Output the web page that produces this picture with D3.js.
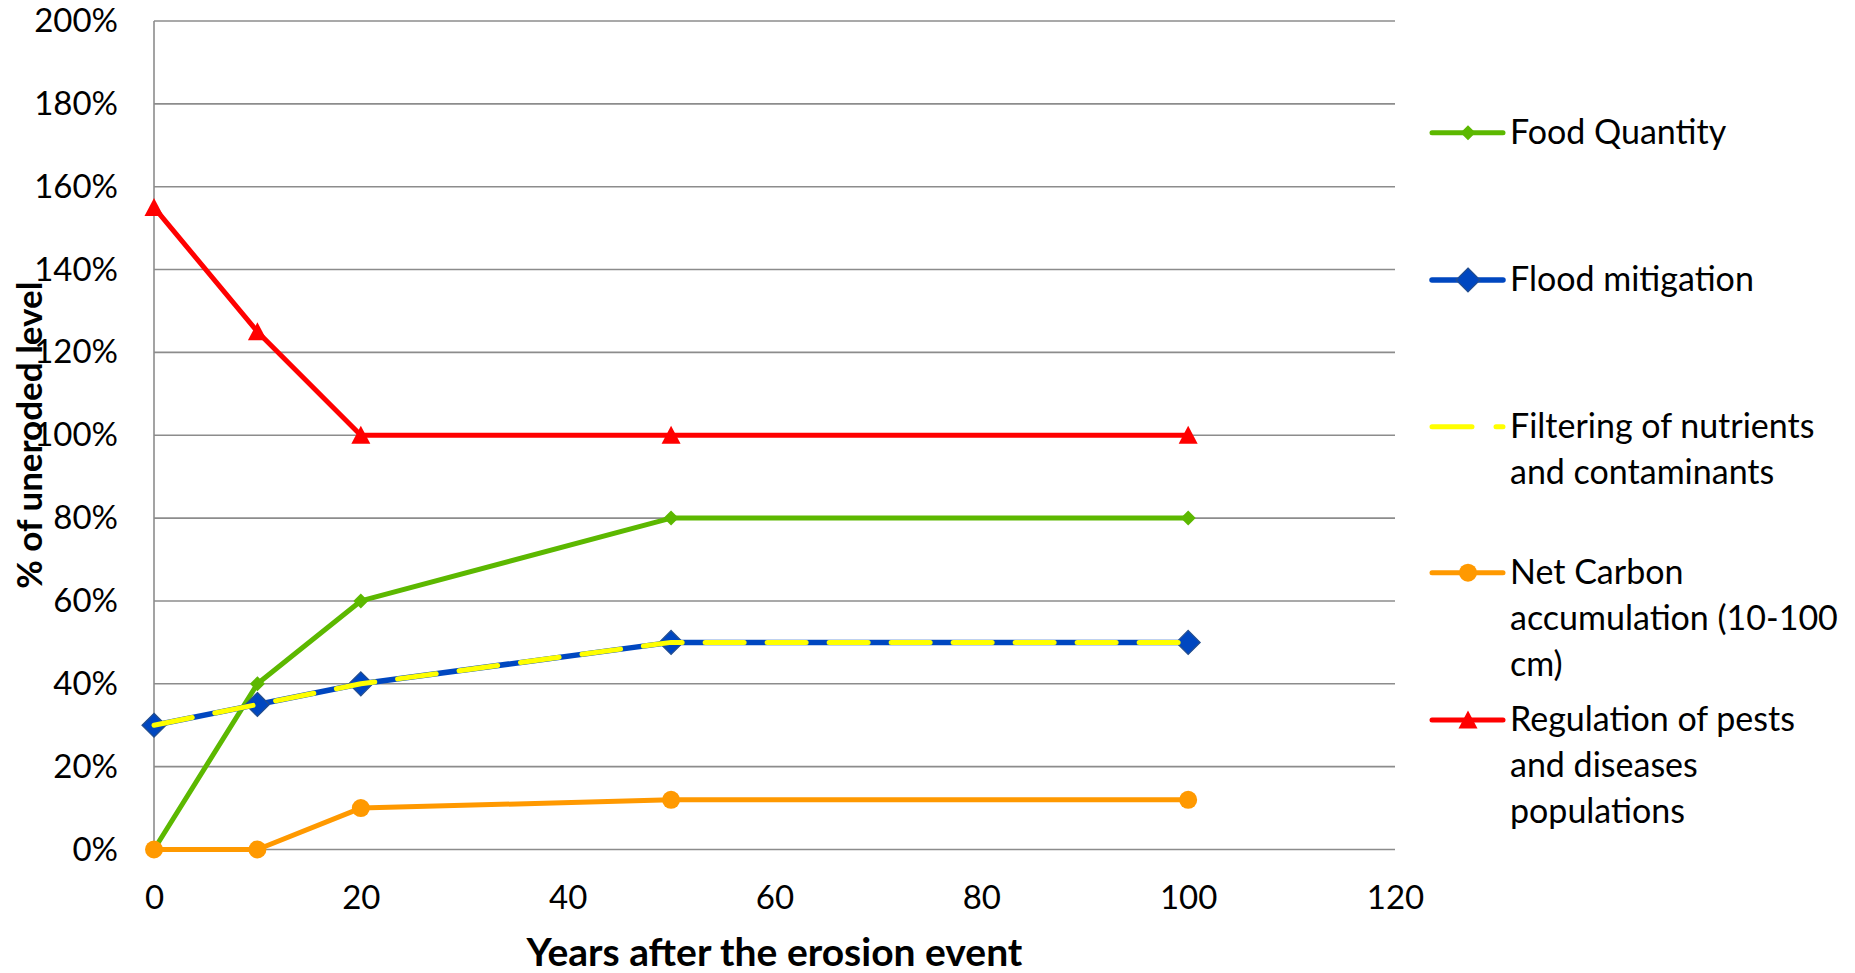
<!DOCTYPE html>
<html>
<head>
<meta charset="utf-8">
<script src="https://cdn.jsdelivr.net/npm/d3@7"></script>
<style>
  html, body { margin: 0; padding: 0; background: #fff; }
  svg { display: block; }
  text { font-family: Lato, "Open Sans", sans-serif; fill: #000; }
</style>
</head>
<body>
<svg id="chart" width="1855" height="973"></svg>
<script>
// Years after the erosion event
const years = [0, 10, 20, 50, 100];

// Ecosystem service levels, as a fraction of the uneroded level
const foodQuantity     = [0.00, 0.40, 0.60, 0.80, 0.80];
const floodMitigation  = [0.30, 0.35, 0.40, 0.50, 0.50];
const filtering        = [0.30, 0.35, 0.40, 0.50, 0.50];
const netCarbon        = [0.00, 0.00, 0.10, 0.12, 0.12];
const pestRegulation   = [1.55, 1.25, 1.00, 1.00, 1.00];

const yTicks = [0, 0.2, 0.4, 0.6, 0.8, 1.0, 1.2, 1.4, 1.6, 1.8, 2.0];
const xTicks = [0, 20, 40, 60, 80, 100, 120];

const seriesNames = [
  ["Food Quantity"],
  ["Flood mitigation"],
  ["Filtering of nutrients", "and contaminants"],
  ["Net Carbon", "accumulation (10-100", "cm)"],
  ["Regulation of pests", "and diseases", "populations"]
];

const series = [
  { values: foodQuantity,    color: "#5CB800", width: 5, marker: "diamond",  size: 15, stroke: null },
  { values: floodMitigation, color: "#0047C0", width: 5.5, marker: "diamond", size: 24, stroke: "#254E8C" },
  { values: filtering,       color: "#FFFF00", width: 5, marker: null, dash: "39,23" },
  { values: netCarbon,       color: "#FF9900", width: 5, marker: "circle",   size: 18, stroke: null },
  { values: pestRegulation,  color: "#FF0000", width: 5, marker: "triangle", size: 19, stroke: null }
];

const svg = d3.select("#chart");

const x = d3.scaleLinear().domain([0, 120]).range([154, 1395]);
const y = d3.scaleLinear().domain([0, 2]).range([849.5, 21]);

const tickFont = 33;
const legendFont = 34;

// Horizontal gridlines
svg.append("g")
  .selectAll("line")
  .data(yTicks)
  .join("line")
  .attr("x1", x(0)).attr("x2", x(120))
  .attr("y1", d => y(d)).attr("y2", d => y(d))
  .attr("stroke", "#8c8c8c").attr("stroke-width", 1.6);

// Vertical axis line
svg.append("line")
  .attr("x1", x(0)).attr("x2", x(0))
  .attr("y1", y(2)).attr("y2", y(0))
  .attr("stroke", "#8c8c8c").attr("stroke-width", 1.6);

// Y axis tick labels
const yAxis = d3.axisLeft(y).tickValues(yTicks).tickSize(0).tickPadding(36)
  .tickFormat(d => Math.round(d * 100) + "%");
const yg = svg.append("g").attr("transform", `translate(${x(0)},0)`).call(yAxis);
yg.select(".domain").remove();
yg.selectAll("text").attr("font-size", tickFont).attr("font-family", "Lato").attr("fill", "#000");

// X axis tick labels
const xAxis = d3.axisBottom(x).tickValues(xTicks).tickSize(0).tickPadding(36);
const xg = svg.append("g").attr("transform", `translate(0,${y(0)})`).call(xAxis);
xg.select(".domain").remove();
xg.selectAll("text").attr("font-size", tickFont).attr("font-family", "Lato").attr("fill", "#000");

// Axis titles
svg.append("text")
  .attr("x", (x(0) + x(120)) / 2).attr("y", 966)
  .attr("text-anchor", "middle")
  .attr("font-size", 39).attr("font-weight", "bold")
  .text("Years after the erosion event");

svg.append("text")
  .attr("transform", `translate(42,${(y(0) + y(2)) / 2}) rotate(-90)`)
  .attr("text-anchor", "middle")
  .attr("font-size", 35).attr("font-weight", "bold")
  .text("% of uneroded level");

function markerPath(type, size) {
  const h = size / 2;
  if (type === "diamond") return `M0,${-h}L${h},0L0,${h}L${-h},0Z`;
  if (type === "triangle") return `M0,${-h}L${h},${h * 0.9}L${-h},${h * 0.9}Z`;
  return null;
}

function drawMarker(g, s, cx, cy) {
  if (!s.marker) return;
  if (s.marker === "circle") {
    g.append("circle").attr("cx", cx).attr("cy", cy).attr("r", s.size / 2).attr("fill", s.color);
  } else {
    g.append("path").attr("d", markerPath(s.marker, s.size))
      .attr("transform", `translate(${cx},${cy})`)
      .attr("fill", s.color)
      .attr("stroke", s.stroke || "none").attr("stroke-width", s.stroke ? 1.2 : 0);
  }
}

const line = d3.line().x((d, i) => x(years[i])).y(d => y(d));

// Series lines and markers
series.forEach(s => {
  const g = svg.append("g");
  g.append("path")
    .datum(s.values)
    .attr("d", line)
    .attr("fill", "none")
    .attr("stroke", s.color)
    .attr("stroke-width", s.width)
    .attr("stroke-linejoin", "round")
    .attr("stroke-linecap", s.dash ? "round" : "butt")
    .attr("stroke-dasharray", s.dash || null);
  s.values.forEach((v, i) => drawMarker(g, s, x(years[i]), y(v)));
});

// Legend
const legendRows = [132.7, 280, 426.7, 572.7, 720];
const lineHeight = 46;
series.forEach((s, i) => {
  const g = svg.append("g").attr("transform", `translate(0,${legendRows[i]})`);
  g.append("line")
    .attr("x1", 1432).attr("x2", 1503).attr("y1", 0).attr("y2", 0)
    .attr("stroke", s.color).attr("stroke-width", s.width)
    .attr("stroke-linecap", "round")
    .attr("stroke-dasharray", s.dash ? "40,24" : null);
  drawMarker(g, s, 1468, 0);
  const t = g.append("text").attr("x", 1510).attr("y", 11).attr("font-size", legendFont);
  seriesNames[i].forEach((ln, j) => {
    t.append("tspan").attr("x", 1510).attr("y", 11 + j * lineHeight).text(ln);
  });
});
</script>
</body>
</html>
